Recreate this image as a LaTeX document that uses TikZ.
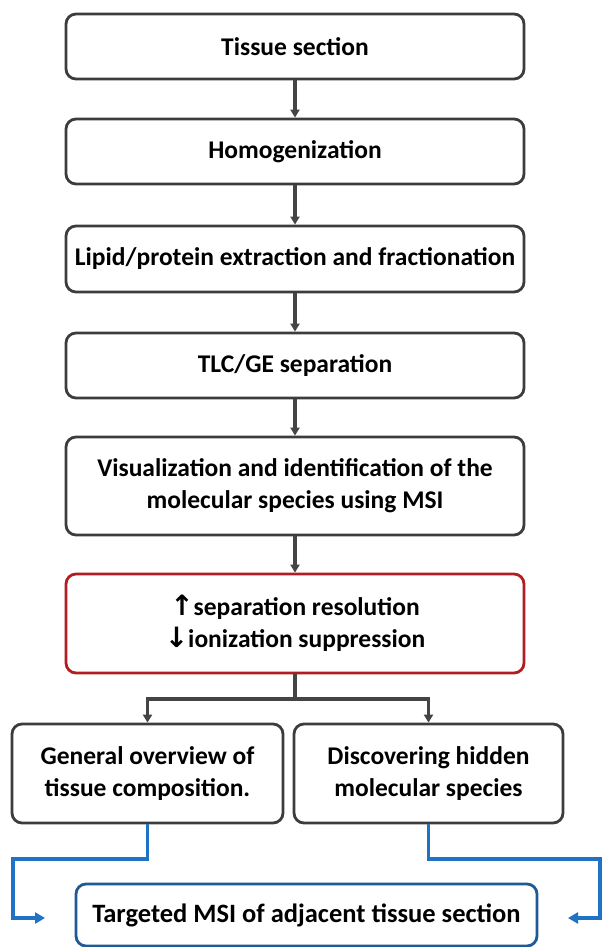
\documentclass[tikz,border=0pt]{standalone}
\usepackage{fontspec}
\setmainfont{Carlito}
\newfontfamily\arrowfont{DejaVu Sans}
\usetikzlibrary{arrows.meta}
\definecolor{boxgray}{HTML}{3C3C3C}
\definecolor{linegray}{HTML}{444444}
\definecolor{boxred}{HTML}{B01E23}
\definecolor{lineblue}{HTML}{1F72C4}
\definecolor{boxblue}{HTML}{1F5A96}
\tikzset{
  stepbox/.style={draw=boxgray, line width=2.8pt, rounded corners=10pt, fill=white,
    minimum width=458pt, align=center, inner sep=0pt,
    font=\fontsize{25.5}{32}\selectfont\bfseries},
  graylink/.style={draw=linegray, line width=3.4pt},
  grayarr/.style={graylink, -{Triangle[length=8pt,width=9pt]}},
  bluearr/.style={draw=lineblue, line width=3.6pt, -{Triangle[length=10pt,width=11pt]}},
}
\begin{document}
\begin{tikzpicture}[x=1pt,y=-1pt]
\useasboundingbox (0,0) rectangle (602,947);
\node[stepbox, minimum height=65pt] (b1) at (295,46.5) {Tissue section};
\node[stepbox, minimum height=65pt] (b2) at (295,151.5) {Homogenization};
\node[stepbox, minimum height=66pt] (b3) at (295,259) {Lipid/protein extraction and fractionation};
\node[stepbox, minimum height=65pt] (b4) at (295,365.5) {TLC/GE separation};
\node[stepbox, minimum height=98pt] (b5) at (295,486) {Visualization and identification of the\\molecular species using MSI};
\node[stepbox, draw=boxred, minimum height=99pt] (b6) at (295,623.5)
  {{\arrowfont\fontsize{28}{32}\selectfont ↑}separation resolution\\{\arrowfont\fontsize{28}{32}\selectfont ↓}ionization suppression};
\node[stepbox, minimum width=271pt, minimum height=99pt] (b7) at (147.5,773.5)
  {General overview of\\tissue composition.};
\node[stepbox, minimum width=269pt, minimum height=99pt] (b8) at (428.5,773.5)
  {Discovering hidden\\molecular species};
\node[stepbox, draw=boxblue, minimum width=461pt, minimum height=62pt,
  font=\fontsize{26.5}{32}\selectfont\bfseries] (b9) at (306.5,915)
  {Targeted MSI of adjacent tissue section};

\draw[grayarr] (b1) -- (b2);
\draw[grayarr] (b2) -- (b3);
\draw[grayarr] (b3) -- (b4);
\draw[grayarr] (b4) -- (b5);
\draw[grayarr] (b5) -- (b6);
\coordinate (split) at (295,699);
\draw[graylink] (b6.south) -- (split);
\draw[grayarr] (split) -| (b7.north);
\draw[grayarr] (split) -| (b8.north);

\coordinate (lturn) at (13,859);
\coordinate (lend) at (45,918);
\coordinate (rturn) at (600,859);
\coordinate (rend) at (568,918);
\draw[bluearr, line join=miter] (b7.south) |- (lturn) |- (lend);
\draw[bluearr, line join=miter] (b8.south) |- (rturn) |- (rend);
\end{tikzpicture}
\end{document}
